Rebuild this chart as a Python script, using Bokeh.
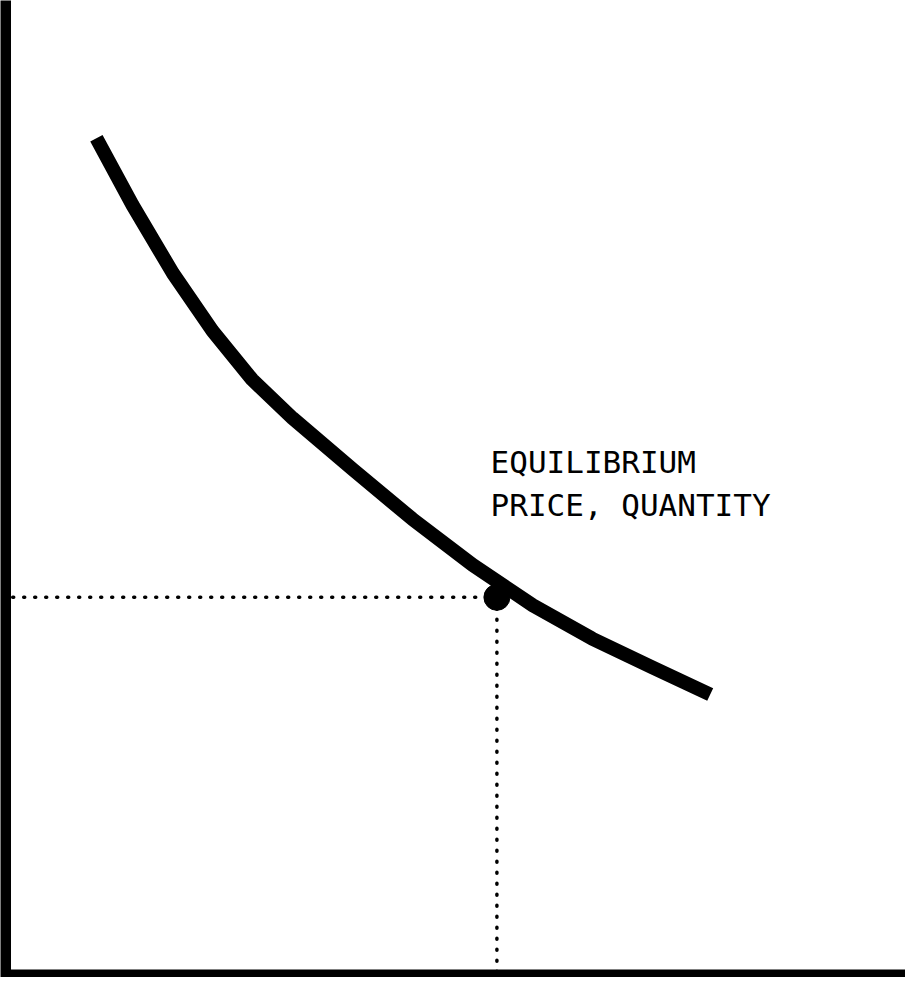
from bokeh.plotting import figure
from bokeh.models import Range1d, ColumnDataSource
from bokeh.core.properties import value
from bokeh.embed import file_html
from bokeh.resources import INLINE

# Demand-like curve (quantity, price) in arbitrary units
curve_q = [10.1, 14.1, 18.6, 23.0, 27.4, 31.9, 38.6, 45.2, 51.9, 58.6, 65.2, 71.9, 78.3]
curve_p = [92.8, 85.4, 77.8, 71.4, 66.0, 61.7, 56.0, 50.5, 45.4, 40.9, 37.2, 34.0, 31.0]

# Equilibrium point
eq_q = 54.6
eq_p = 41.8

# Axis extents
axis_q_max = 100.0
axis_p_max = 108.2

label_lines = ["EQUILIBRIUM", "PRICE, QUANTITY"]
label_q = 53.9
label_p = [56.8, 52.0]

p = figure(width=905, height=977, output_backend="svg", toolbar_location=None,
           x_range=Range1d(-0.556, 100.0), y_range=Range1d(-0.444, 108.11),
           min_border=0, min_border_left=0, min_border_right=0,
           min_border_top=0, min_border_bottom=0)
p.axis.visible = False
p.grid.visible = False
p.outline_line_color = None
p.background_fill_color = "white"
p.border_fill_color = "white"

# Axes drawn as thick lines
p.line([0, 0], [-0.444, axis_p_max], line_color="black", line_width=11)
p.line([0, axis_q_max], [0, 0], line_color="black", line_width=8)

# Dotted guide lines
p.line([0.8, eq_q], [eq_p, eq_p], line_color="black", line_width=3.5,
       line_dash="1 10", line_cap="round")
p.line([eq_q, eq_q], [eq_p, 0], line_color="black", line_width=3.5,
       line_dash="1 10", line_cap="round")

# Curve
p.line(curve_q, curve_p, line_color="black", line_width=14, line_join="round")

# Equilibrium point
p.scatter([eq_q], [eq_p], size=26, color="black")

src = ColumnDataSource(dict(x=[label_q, label_q], y=label_p, t=label_lines))
p.text(x="x", y="y", text="t", source=src, text_font=value("DejaVu Sans Mono"),
       text_font_size="31px", text_color="black", text_baseline="alphabetic",
       text_align="left")

open("out.html", "w").write(file_html(p, INLINE))
